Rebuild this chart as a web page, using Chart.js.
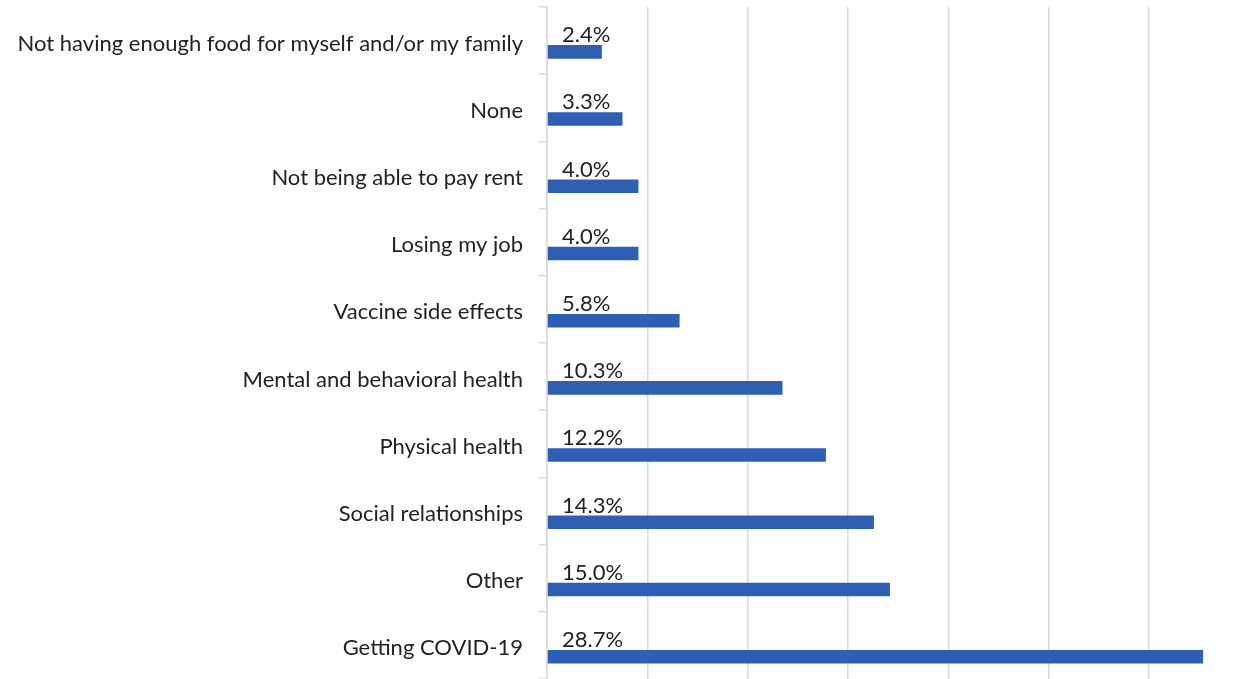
<!DOCTYPE html>
<html>
<head>
<meta charset="utf-8">
<script src="https://cdn.jsdelivr.net/npm/chart.js@4"></script>
<style>
  body { margin: 0; background: #fff; }
  #wrap { width: 1247px; height: 679px; position: relative; }
</style>
</head>
<body>
<div id="wrap"><canvas id="worries-chart"></canvas></div>
<script>
// survey: biggest worry right now (share of respondents, %)
const categories = [
    'Not having enough food for myself and/or my family',
    'None',
    'Not being able to pay rent',
    'Losing my job',
    'Vaccine side effects',
    'Mental and behavioral health',
    'Physical health',
    'Social relationships',
    'Other',
    'Getting COVID-19'
];
const shares = [2.4, 3.3, 4.0, 4.0, 5.8, 10.3, 12.2, 14.3, 15.0, 28.7];
// empty series, only there to push the real bars down in each row (like the original)
const spacer = [null, null, null, null, null, null, null, null, null, null];
// vertical gridlines (no tick labels shown in the original)
const gridValues = [0, 4.39, 8.78, 13.17, 17.56, 21.95, 26.34, 30.73];

const textColor = '#222222';
const barColor = '#2f5fb3';
const lineColor = '#d9d9d9';

const valueLabels = {
    id: 'valueLabels',
    afterDatasetsDraw(chart) {
        const ctx = chart.ctx;
        const meta = chart.getDatasetMeta(1);
        ctx.save();
        ctx.font = '22px Lato';
        ctx.fillStyle = textColor;
        ctx.textAlign = 'left';
        ctx.textBaseline = 'alphabetic';
        meta.data.forEach((bar, i) => {
            const top = bar.y - bar.height / 2;
            ctx.fillText(shares[i].toFixed(1) + '%', chart.chartArea.left + 15, top - 3);
        });
        ctx.restore();
    }
};

document.addEventListener('DOMContentLoaded', () => {
    const ctx = document.getElementById('worries-chart').getContext('2d');
    new Chart(ctx, {
        type: 'bar',
        data: {
            labels: categories,
            datasets: [
                { label: '', data: spacer, backgroundColor: 'rgba(0,0,0,0)' },
                { label: 'Share', data: shares, backgroundColor: barColor }
            ]
        },
        options: {
            indexAxis: 'y',
            responsive: true,
            maintainAspectRatio: false,
            animation: false,
            categoryPercentage: 0.672,
            barPercentage: 0.6,
            layout: { padding: { top: 7, left: 0, right: 0, bottom: 0 } },
            plugins: {
                legend: { display: false },
                tooltip: { enabled: false }
            },
            scales: {
                x: {
                    min: 0,
                    max: 30.62,
                    afterBuildTicks: scale => { scale.ticks = gridValues.map(v => ({ value: v })); },
                    afterFit: scale => { scale.height = 0; scale.paddingLeft = 0; scale.paddingRight = 0; },
                    ticks: { display: false },
                    grid: { color: lineColor, drawTicks: false, lineWidth: 1.5 },
                    border: { display: false }
                },
                y: {
                    afterFit: scale => {
                        scale.width = 547;
                        scale.paddingTop = 0;
                        scale.paddingBottom = 0;
                    },
                    ticks: {
                        color: textColor,
                        font: { family: 'Lato', size: 22 },
                        padding: 16,
                        labelOffset: 3,
                        autoSkip: false
                    },
                    grid: { drawOnChartArea: false, color: lineColor, tickLength: 8, lineWidth: 1.5 },
                    border: { display: true, color: lineColor, width: 1.5 }
                }
            }
        },
        plugins: [valueLabels]
    });
});
</script>
</body>
</html>
